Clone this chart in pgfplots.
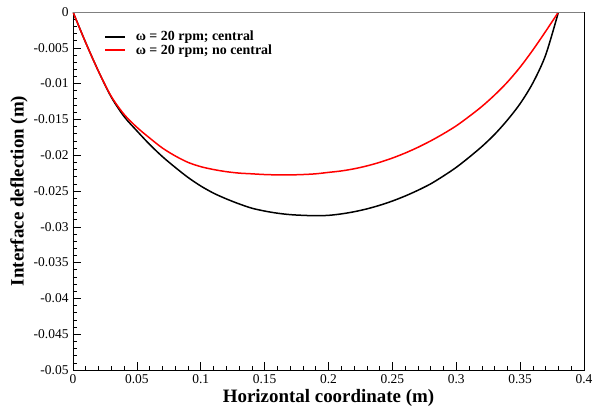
\documentclass[border=0pt]{standalone}
\usepackage{fontspec}
\setmainfont{Liberation Serif}
\usepackage{pgfplots}
\pgfplotsset{compat=1.18}
\begin{document}
\begin{tikzpicture}
\begin{axis}[
  width=511bp, height=358bp, scale only axis=true,
  xmin=0, xmax=0.4, ymin=-0.05, ymax=0,
  xtick={0,0.05,...,0.4}, ytick={-0.05,-0.045,...,0},
  minor x tick num=4, minor y tick num=4,
  tick align=inside, xtick pos=bottom, ytick pos=left,
  major tick length=8bp, minor tick length=4bp,
  tick style={black, line width=0.6bp},
  axis line style={line width=0.8bp},
  /pgf/number format/assume math mode=true,
  /pgf/number format/fixed, /pgf/number format/precision=3,
  scaled ticks=false,
  ticklabel style={font=\fontsize{13.5}{15}\selectfont},
  xticklabel style={yshift=-1bp},
  yticklabel style={xshift=-1bp},
  xlabel={\fontsize{19}{22}\selectfont\bfseries Horizontal coordinate (m)},
  ylabel={\fontsize{19}{22}\selectfont\bfseries Interface deflection (m)},
  xlabel style={at={(axis description cs:0.5,0)}, anchor=center, yshift=-28bp},
  ylabel style={at={(axis description cs:0,0.5)}, anchor=center, rotate=0, yshift=54bp},
  legend style={draw=none, fill=none, at={(rel axis cs:0.055,0.955)}, anchor=north west,
    font=\fontsize{14}{16}\selectfont\bfseries, row sep=0bp,
    nodes={inner sep=1bp},
    /tikz/every odd column/.append style={column sep=9bp}},
  legend cell align=left,
  legend image code/.code={\draw[#1, line width=1.5bp] (0bp,0bp) -- (20bp,0bp);},
]
\addplot[black, line width=1.5bp, smooth] coordinates {
(0,0) (0.01,-0.0043) (0.02,-0.0083) (0.03,-0.0119) (0.04,-0.0146) (0.05,-0.0166)
(0.06,-0.0185) (0.07,-0.0202) (0.08,-0.0217) (0.09,-0.0231) (0.10,-0.0243)
(0.11,-0.0253) (0.12,-0.0261) (0.13,-0.0268) (0.14,-0.0274) (0.15,-0.0278)
(0.16,-0.0281) (0.17,-0.0283) (0.18,-0.0284) (0.19,-0.02845) (0.20,-0.0284)
(0.21,-0.0282) (0.22,-0.0279) (0.23,-0.0275) (0.24,-0.0270) (0.25,-0.0264)
(0.26,-0.0257) (0.27,-0.0249) (0.28,-0.0240) (0.29,-0.0229) (0.30,-0.0217)
(0.31,-0.0203) (0.32,-0.0188) (0.33,-0.0171) (0.34,-0.0151) (0.35,-0.0128)
(0.36,-0.0099) (0.37,-0.0060) (0.38,0)
};
\addlegendentry{ω = 20 rpm; central}
\addplot[red, line width=1.5bp, smooth] coordinates {
(0,0) (0.01,-0.0043) (0.02,-0.0083) (0.03,-0.0118) (0.04,-0.0143) (0.05,-0.0161)
(0.06,-0.0176) (0.07,-0.0190) (0.08,-0.0201) (0.09,-0.0210) (0.10,-0.0216)
(0.11,-0.0220) (0.12,-0.0223) (0.13,-0.0225) (0.14,-0.0226) (0.15,-0.0227)
(0.16,-0.02275) (0.17,-0.02275) (0.18,-0.0227) (0.19,-0.0226) (0.20,-0.0224)
(0.21,-0.0222) (0.22,-0.0219) (0.23,-0.0215) (0.24,-0.0210) (0.25,-0.0204)
(0.26,-0.0197) (0.27,-0.0189) (0.28,-0.0180) (0.29,-0.0170) (0.30,-0.0159)
(0.31,-0.0146) (0.32,-0.0132) (0.33,-0.0116) (0.34,-0.0098) (0.35,-0.0077)
(0.36,-0.0053) (0.37,-0.0027) (0.38,0)
};
\addlegendentry{ω = 20 rpm; no central}
\draw[gray, line width=0.9bp] (rel axis cs:0,1) -- (rel axis cs:1,1);
\end{axis}
\pgfresetboundingbox
\path (-73bp,-39bp) rectangle (520bp,370bp);
\end{tikzpicture}
\end{document}
